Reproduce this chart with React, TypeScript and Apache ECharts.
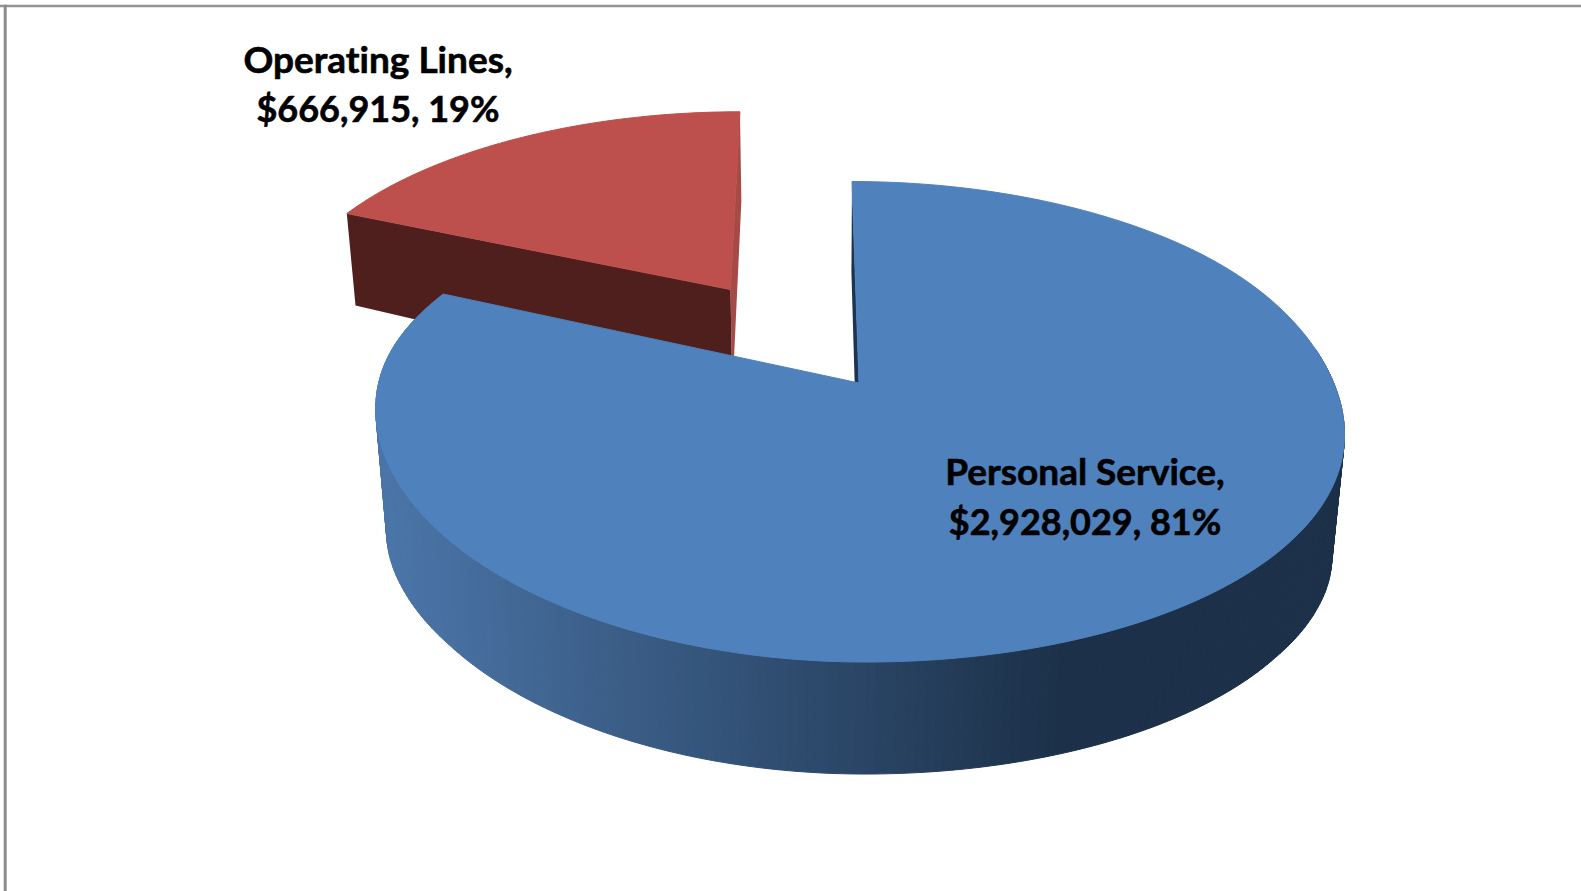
import React, { useEffect, useRef } from "react";
import * as echarts from "echarts";

// ---- data ----
const categories = ["Personal Service", "Operating Lines"];
const amounts = [2928029, 666915];
const explodes = [0, 0.51];
const topColors = ["#4f81bd", "#bd4f4c"];
const cutColors = ["#1c3450", "#a64a47"];
const sideColors = ["#1c3149", "#4e1f1c"];

// ---- projection of the tilted 3D pie on to the page ----
const APEX_X = 859;
const APEX_Y = 383;
const RX = 478;
const RY = 234;
const K = 0.1614;
const SHEAR = 7;
const TILT = 10;
const VANISH_X = 820;
const VANISH_DIST = 5000;
const DEPTH_V = [-1.45, -1, -0.8, -0.3, 0.16, 0.4, 0.6, 1];
const DEPTH_PX = [89, 91, 92, 108, 121, 115, 112, 112];

function project(u: number, v: number): number[] {
  const w = 1 - K * v;
  const g = Math.max(0, Math.min(1, (v + 0.7) / 0.9));
  const tilt = TILT * u * Math.abs(u) * g * g * (3 - 2 * g);
  return [APEX_X + (RX * u) / w + SHEAR * v, APEX_Y + (RY * v) / w + tilt];
}
function depth(v: number): number {
  const c = Math.max(DEPTH_V[0], Math.min(1, v));
  for (let i = 1; i < DEPTH_V.length; i++) {
    if (c <= DEPTH_V[i]) {
      const t = (c - DEPTH_V[i - 1]) / (DEPTH_V[i] - DEPTH_V[i - 1]);
      return DEPTH_PX[i - 1] + (DEPTH_PX[i] - DEPTH_PX[i - 1]) * t;
    }
  }
  return DEPTH_PX[DEPTH_PX.length - 1];
}
function projectBottom(u: number, v: number): number[] {
  const p = project(u, v);
  const d = depth(v);
  return [p[0] + ((VANISH_X - p[0]) * d) / VANISH_DIST, p[1] + d];
}
function mix(a: number[], b: number[], t: number): string {
  const c = a.map((x, i) => Math.round(x + (b[i] - x) * t));
  return `rgb(${c[0]},${c[1]},${c[2]})`;
}
const WALL_LEFT = [75, 117, 168];
const WALL_RIGHT = [28, 49, 73];
function wallColor(x: number): string {
  const t = Math.max(0, Math.min(1, (x - 384) / (1060 - 384)));
  return mix(WALL_LEFT, WALL_RIGHT, t);
}

function labelLines(i: number, total: number): string[] {
  const pct = Math.round((amounts[i] / total) * 100);
  return [`${categories[i]},`, `$${amounts[i].toLocaleString("en-US")}, ${pct}%`];
}
const labelSpots = [
  [1085, 470.5, 521],
  [378, 58, 108],
];

function buildSlice(index: number, start: number, end: number): any {
  const rad = Math.PI / 180;
  const mid = ((start + end) / 2) * rad;
  const ox = Math.sin(mid) * explodes[index];
  const oy = -Math.cos(mid) * explodes[index];
  const uv = (deg: number) => [ox + Math.sin(deg * rad), oy - Math.cos(deg * rad)];
  const children: any[] = [];
  const poly = (points: number[][], fill: string, stroke?: string) => ({
    type: "polygon",
    shape: { points },
    style: stroke ? { fill, stroke, lineWidth: 1 } : { fill },
    silent: true,
  });
  const top = (deg: number) => {
    const q = uv(deg);
    return project(q[0], q[1]);
  };
  const bot = (deg: number) => {
    const q = uv(deg);
    return projectBottom(q[0], q[1]);
  };
  const apexTop = project(ox, oy);
  const apexBot = projectBottom(ox, oy);

  if (index === 1) {
    // light cut face on the right, dark cut face at the front of the exploded slice
    children.push(poly([top(end), apexTop, apexBot, bot(end)], cutColors[index]));
    children.push(poly([top(start), apexTop, apexBot, bot(start)], sideColors[index]));
  } else {
    // thin cut face on the 12 o'clock radius
    children.push(poly([top(start), apexTop, apexBot, bot(start)], cutColors[index]));
    // curved outer wall, back to front; it starts and ends where it comes out from under the top face
    const step = 1;
    const quads: any[] = [];
    for (let a = 80; a < 285; a += step) {
      const b = a + step;
      const pts = [top(a), top(b), bot(b), bot(a)];
      const x = (pts[0][0] + pts[1][0]) / 2;
      const q = uv((a + b) / 2);
      quads.push({ v: q[1], pts, color: wallColor(x) });
    }
    quads.sort((p, q) => p.v - q.v);
    quads.forEach((q) => children.push(poly(q.pts, q.color, q.color)));
  }
  // top face
  const face: number[][] = [apexTop];
  for (let a = start; a < end; a += 1) face.push(top(a));
  face.push(top(end));
  children.push(poly(face, topColors[index], topColors[index]));
  return { type: "group", children };
}

export default function App() {
  const ref = useRef<HTMLDivElement>(null);
  useEffect(() => {
    const chart = echarts.init(ref.current!, undefined, { renderer: "svg" });
    const total = amounts.reduce((a, b) => a + b, 0);
    const rows: number[][] = [];
    let cum = 0;
    amounts.forEach((value, i) => {
      const start = (cum / total) * 360;
      cum += value;
      rows.push([i, value, start, (cum / total) * 360]);
    });
    // the exploded slice lies behind, so it is drawn first
    const ordered = [...rows].reverse();
    const textEl = (text: string, x: number, y: number, size: number) => ({
      type: "text",
      silent: true,
      style: {
        text,
        x,
        y,
        align: "center",
        verticalAlign: "middle",
        textAlign: "center",
        textVerticalAlign: "middle",
        font: `bold ${size}px Lato, "Open Sans", sans-serif`,
        fill: "#000000",
        stroke: "#000000",
        lineWidth: 0.6,
      },
    });
    chart.setOption({
      animation: false,
      backgroundColor: "#ffffff",
      graphic: [
        { type: "rect", silent: true, shape: { x: 0, y: 4.7, width: 1581, height: 2.6 }, style: { fill: "#939393" } },
        { type: "rect", silent: true, shape: { x: 3.7, y: 4.7, width: 3, height: 887 }, style: { fill: "#8c8c8c" } },
      ],
      series: [
        {
          type: "custom",
          coordinateSystem: "none",
          silent: true,
          data: ordered,
          renderItem: (_p: any, api: any) =>
            buildSlice(api.value(0), api.value(2), api.value(3)),
        },
        {
          type: "custom",
          coordinateSystem: "none",
          silent: true,
          z: 5,
          data: rows,
          renderItem: (_p: any, api: any) => {
            const i = api.value(0);
            const lines = labelLines(i, total);
            const spot = labelSpots[i];
            return {
              type: "group",
              children: [
                textEl(lines[0], spot[0], spot[1], 37),
                textEl(lines[1], spot[0], spot[2], 36),
              ],
            };
          },
        },
      ],
    });
    return () => chart.dispose();
  }, []);
  return (
    <>
      <style>{"svg text{font-variant-ligatures:none !important;font-feature-settings:'liga' 0,'clig' 0 !important}"}</style>
      <div
        ref={ref}
        style={{ position: "fixed", left: 0, top: 0, width: 1581, height: 891, background: "#fff" }}
      />
    </>
  );
}
